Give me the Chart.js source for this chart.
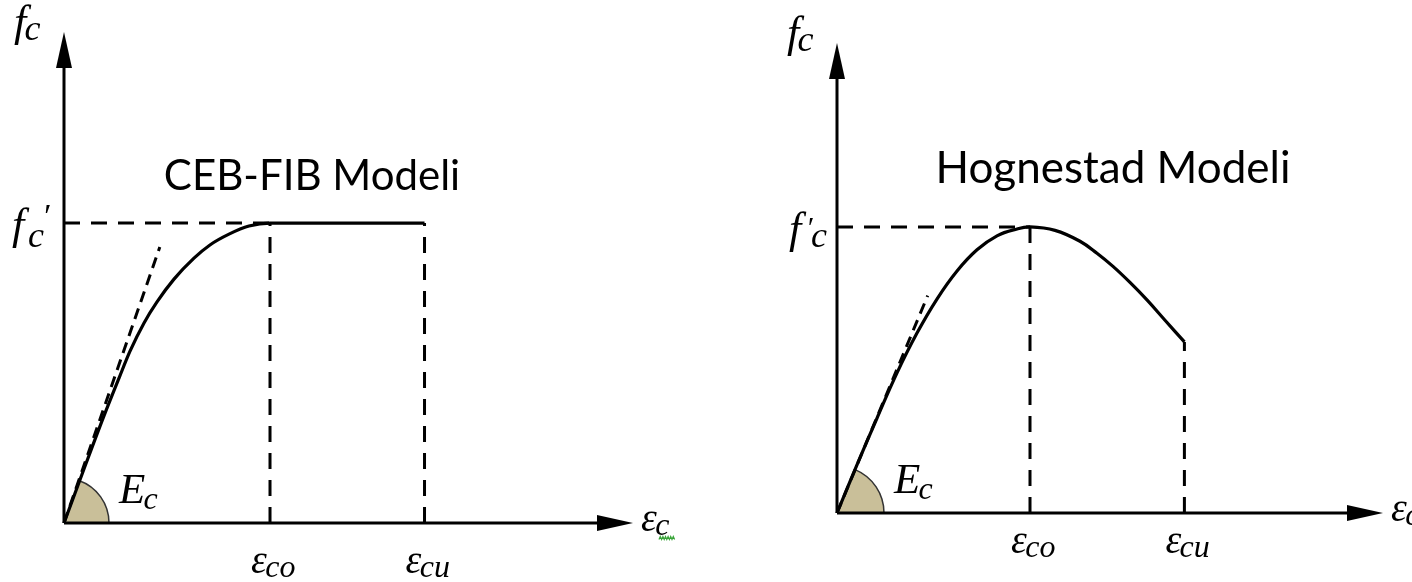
<!DOCTYPE html>
<html>
<head>
<meta charset="utf-8">
<script src="https://cdn.jsdelivr.net/npm/chart.js@4"></script>
<style>
  body { margin: 0; background: #fff; width: 1412px; height: 582px; position: relative; overflow: hidden; }
  canvas { position: absolute; top: 0; }
</style>
</head>
<body>
<canvas id="ceb" width="706" height="582" style="left:0"></canvas>
<canvas id="hog" width="706" height="582" style="left:706px"></canvas>
<script>
// strain in permille, stress as fc / f'c
const cebStrain = [0, 0.194, 0.388, 0.534, 0.641, 0.777, 0.903, 1.068, 1.262, 1.417, 1.602, 1.796, 2.0, 3.5];
const cebStress = [0, 0.18, 0.357, 0.483, 0.573, 0.667, 0.737, 0.813, 0.883, 0.927, 0.963, 0.99, 1.0, 1.0];
const cebTangent = [[0, 0], [0.93, 0.92]];
const cebMarks = [2.0, 3.5];

const hogStrain = [0, 0.207, 0.415, 0.622, 0.829, 1.036, 1.244, 1.451, 1.658, 1.865, 2.0,
  2.259, 2.518, 2.694, 2.86, 3.036, 3.212, 3.399, 3.6];
const hogStress = [0, 0.168, 0.332, 0.49, 0.629, 0.748, 0.846, 0.92, 0.969, 0.993, 1.0,
  0.988, 0.950, 0.908, 0.862, 0.806, 0.745, 0.674, 0.598];
const hogTangent = [[0, 0], [0.94, 0.76]];
const hogMarks = [2.0, 3.6];

const markLabels = [['ε', 'co'], ['ε', 'cu']];

const MATH = 'italic {s}px "Liberation Serif", "DejaVu Serif", serif';
const mathFont = s => MATH.replace('{s}', s);

function pts(xs, ys) { return xs.map((x, i) => ({ x, y: ys[i] })); }

function guideLines(strain, stress, marks) {
  // dashed f'c level and the two strain marks
  const peak = stress[strain.indexOf(marks[0])];
  const end = stress[strain.indexOf(marks[1])];
  return [
    [{ x: 0, y: peak }, { x: marks[0], y: peak }],
    [{ x: marks[0], y: 0 }, { x: marks[0], y: peak }],
    [{ x: marks[1], y: 0 }, { x: marks[1], y: end }]
  ];
}

function sub(ctx, x, y, base, s, size, subSize, dy) {
  ctx.font = mathFont(size);
  ctx.fillText(base, x, y);
  const w = ctx.measureText(base).width;
  ctx.font = mathFont(subSize);
  ctx.fillText(s, x + w - size * 0.04, y + dy);
  return w + ctx.measureText(s).width;
}

const diagram = {
  id: 'diagram',
  beforeDatasetsDraw(chart, args, o) {
    const { ctx, scales: { x, y } } = chart;
    const ox = x.getPixelForValue(0), oy = y.getPixelForValue(0);
    const tx = x.getPixelForValue(o.tangent[1][0]) - ox;
    const ty = oy - y.getPixelForValue(o.tangent[1][1]);
    const ang = Math.atan2(ty, tx);
    ctx.save();
    ctx.beginPath();
    ctx.moveTo(ox, oy);
    ctx.arc(ox, oy, o.arcR, -ang, 0);
    ctx.closePath();
    ctx.fillStyle = '#c9bf99';
    ctx.fill();
    ctx.beginPath();
    ctx.arc(ox, oy, o.arcR, -ang, 0);
    ctx.strokeStyle = '#333';
    ctx.lineWidth = 1.5;
    ctx.stroke();
    ctx.restore();
  },
  afterDatasetsDraw(chart, args, o) {
    const { ctx, chartArea: a, scales: { x, y } } = chart;
    const ox = x.getPixelForValue(0), oy = y.getPixelForValue(0);
    ctx.save();
    ctx.strokeStyle = '#000';
    ctx.fillStyle = '#000';
    ctx.lineWidth = 3;
    // axes with arrow heads
    ctx.beginPath();
    ctx.moveTo(ox, oy); ctx.lineTo(ox, a.top + 30);
    ctx.moveTo(ox, oy); ctx.lineTo(a.right - 32, oy);
    ctx.stroke();
    ctx.beginPath();
    ctx.moveTo(ox, a.top); ctx.lineTo(ox - 8, a.top + 36); ctx.lineTo(ox + 8, a.top + 36);
    ctx.closePath(); ctx.fill();
    ctx.beginPath();
    ctx.moveTo(a.right, oy); ctx.lineTo(a.right - 36, oy - 8); ctx.lineTo(a.right - 36, oy + 8);
    ctx.closePath(); ctx.fill();

    // title
    ctx.font = o.titleSize + 'px Lato, "Open Sans", sans-serif';
    ctx.textAlign = 'center';
    ctx.textBaseline = 'alphabetic';
    ctx.fillText(o.title, o.titleX, o.titleY);
    ctx.textAlign = 'left';

    // axis names
    const peakY = y.getPixelForValue(1);
    sub(ctx, ox - 50, a.top + 4, 'f', 'c', 44, 36, 4);
    if (o.primeAfterF) {
      ctx.font = mathFont(44);
      ctx.fillText('f', ox - 48, peakY + 16);
      ctx.font = mathFont(30);
      ctx.fillText('\u2032', ox - 31, peakY + 10);
      ctx.font = mathFont(36);
      ctx.fillText('c', ox - 26, peakY + 20);
    } else {
      ctx.font = mathFont(44);
      ctx.fillText('f', ox - 52, peakY + 16);
      ctx.font = mathFont(36);
      ctx.fillText('c', ox - 36, peakY + 24);
      ctx.font = mathFont(34);
      ctx.fillText('\u2032', ox - 22, peakY + 4);
    }
    sub(ctx, a.right + 8, oy + 8, 'ε', 'c', 40, 32, 4);
    if (o.squiggle) {
      ctx.strokeStyle = '#3aa53a';
      ctx.lineWidth = 1.2;
      ctx.beginPath();
      for (let i = 0; i <= 12; i++) {
        const px = a.right + 26 + i * 1.3;
        const py = oy + 15 + (i % 2 ? -1.5 : 1.5);
        i ? ctx.lineTo(px, py) : ctx.moveTo(px, py);
      }
      ctx.stroke();
      ctx.strokeStyle = '#000';
    }

    // modulus symbol next to the arc
    sub(ctx, ox + o.arcR + 10, oy - 20, 'E', 'c', 43, 32, 6);

    // strain marks under the axis
    o.marks.forEach((m, i) => {
      const px = x.getPixelForValue(m);
      ctx.font = mathFont(40);
      const w1 = ctx.measureText(markLabels[i][0]).width;
      ctx.font = mathFont(32);
      const w2 = ctx.measureText(markLabels[i][1]).width;
      sub(ctx, px - (w1 + w2) / 2 + 4, oy + o.markDy, markLabels[i][0], markLabels[i][1], 40, 32, 4);
    });
    ctx.restore();
  }
};

function makeChart(id, strain, stress, tangent, marks, box, opts) {
  const lines = guideLines(strain, stress, marks);
  const dashed = (data, dash, w) => ({
    data, showLine: true, borderColor: '#000', borderWidth: w,
    borderDash: dash, pointRadius: 0, fill: false, clip: false
  });
  return new Chart(document.getElementById(id), {
    type: 'scatter',
    data: {
      datasets: [
        ...lines.map(l => dashed(l, [16, 11], 3)),
        dashed(tangent.map(([x, y]) => ({ x, y })), [11, 7], 3),
        {
          data: pts(strain, stress), showLine: true, borderColor: '#000',
          borderWidth: 3.2, pointRadius: 0, clip: false,
          cubicInterpolationMode: opts.smooth, tension: 0.4
        }
      ]
    },
    options: {
      responsive: false,
      animation: false,
      layout: { padding: box.pad },
      scales: {
        x: { type: 'linear', min: 0, max: box.xMax, display: false },
        y: { type: 'linear', min: 0, max: box.yMax, display: false }
      },
      plugins: { legend: { display: false }, tooltip: { enabled: false }, diagram: { ...opts, tangent, marks } }
    },
    plugins: [diagram]
  });
}

makeChart('ceb', cebStrain, cebStress, cebTangent, cebMarks,
  { pad: { left: 64, right: 73, top: 32, bottom: 59 }, xMax: 5.524, yMax: 1.637 },
  { title: 'CEB-FIB Modeli', titleX: 312, titleY: 190, titleSize: 42, arcR: 45, markDy: 50,
    squiggle: true, primeAfterF: false, smooth: 'monotone' });

makeChart('hog', hogStrain, hogStress, hogTangent, hogMarks,
  { pad: { left: 131, right: 29, top: 43, bottom: 69 }, xMax: 5.658, yMax: 1.643 },
  { title: 'Hognestad Modeli', titleX: 407, titleY: 183, titleSize: 44, arcR: 47, markDy: 40,
    squiggle: false, primeAfterF: true, smooth: 'default' });
</script>
</body>
</html>
